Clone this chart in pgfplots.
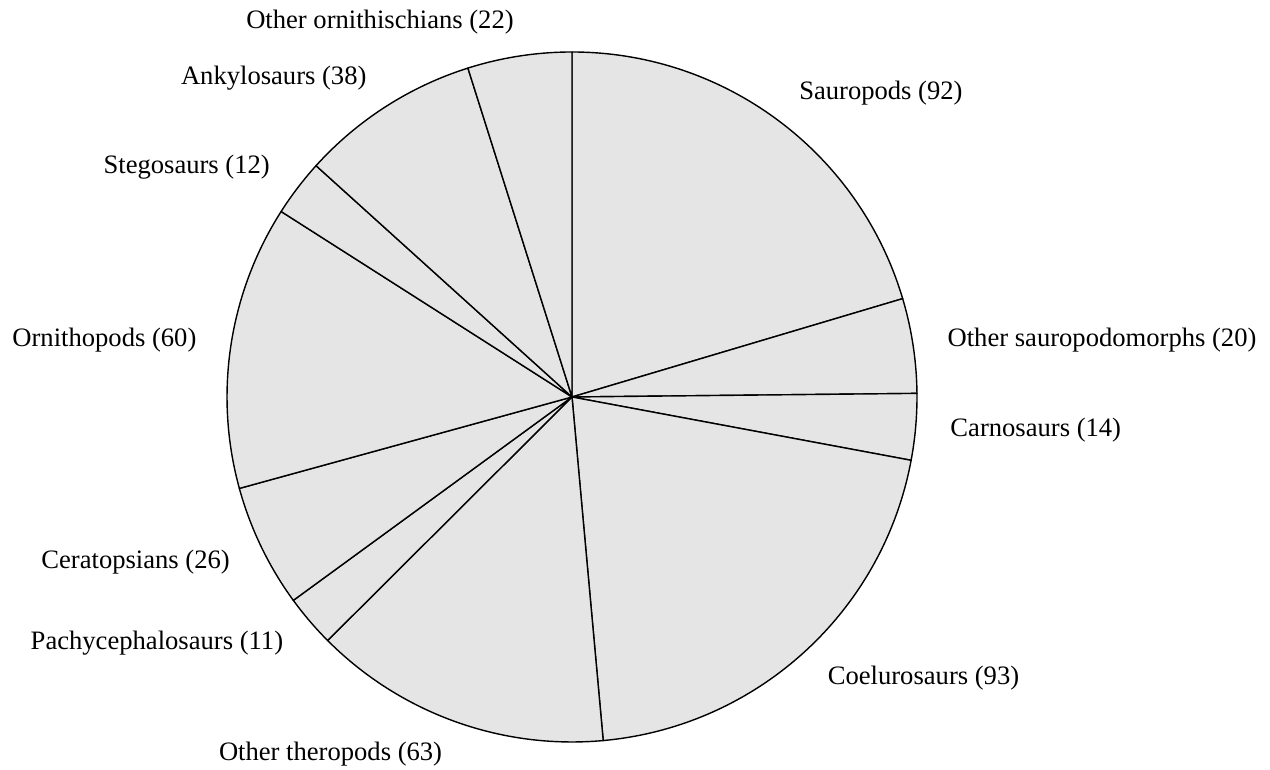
\documentclass[border=0pt]{standalone}
\usepackage{pgfplots}
\usepackage{pgfplotstable}
\pgfplotsset{compat=1.18}
\usepackage{fontspec}
\setmainfont{Liberation Serif}
\definecolor{piefill}{HTML}{E5E5E5}
\pgfplotstableread[col sep=comma]{
name,value
Sauropods,92
Other sauropodomorphs,20
Carnosaurs,14
Coelurosaurs,93
Other theropods,63
Pachycephalosaurs,11
Ceratopsians,26
Ornithopods,60
Stegosaurs,12
Ankylosaurs,38
Other ornithischians,22
}\pietable
\begin{document}
\begin{tikzpicture}
\begin{axis}[hide axis, scale only axis, width=635pt, height=385pt,
  xmin=0, xmax=1270, ymin=0, ymax=770, clip=false]
\addplot[draw=none] coordinates {(0,0) (1270,770)};
\pgfplotsextra{
  \gdef\cum{0}
  \gdef\total{451}
  \foreach \i in {0,...,10} {
    \pgfplotstablegetelem{\i}{value}\of\pietable \let\v\pgfplotsretval
    \pgfplotstablegetelem{\i}{name}\of\pietable \let\n\pgfplotsretval
    \pgfmathsetmacro\a{90-\cum/\total*360}
    \pgfmathsetmacro\b{90-(\cum+\v)/\total*360}
    \pgfmathsetmacro\m{(\a+\b)/2}
    \filldraw[fill=piefill, draw=black, line width=0.7pt, line join=round]
      (axis cs:572,373) -- ++(\a:172.5pt) arc[start angle=\a, end angle=\b, radius=172.5pt] -- cycle;
    \pgfmathsetmacro\lx{572+379.5*cos(\m)}
    \pgfmathsetmacro\ly{373+379.5*sin(\m)}
    \pgfmathsetmacro\c{cos(\m)}
    \ifdim\c pt<0pt \def\anc{east}\else\def\anc{west}\fi
    \node[anchor=\anc, inner sep=0pt, font=\fontsize{13.3}{16}\selectfont] at (axis cs:\lx,\ly) {\n\ (\v)};
    \pgfmathsetmacro\newcum{\cum+\v}
    \global\let\cum\newcum
  }
}
\end{axis}
\pgfresetboundingbox
\path (0,0) rectangle (635pt,385pt);
\end{tikzpicture}
\end{document}
